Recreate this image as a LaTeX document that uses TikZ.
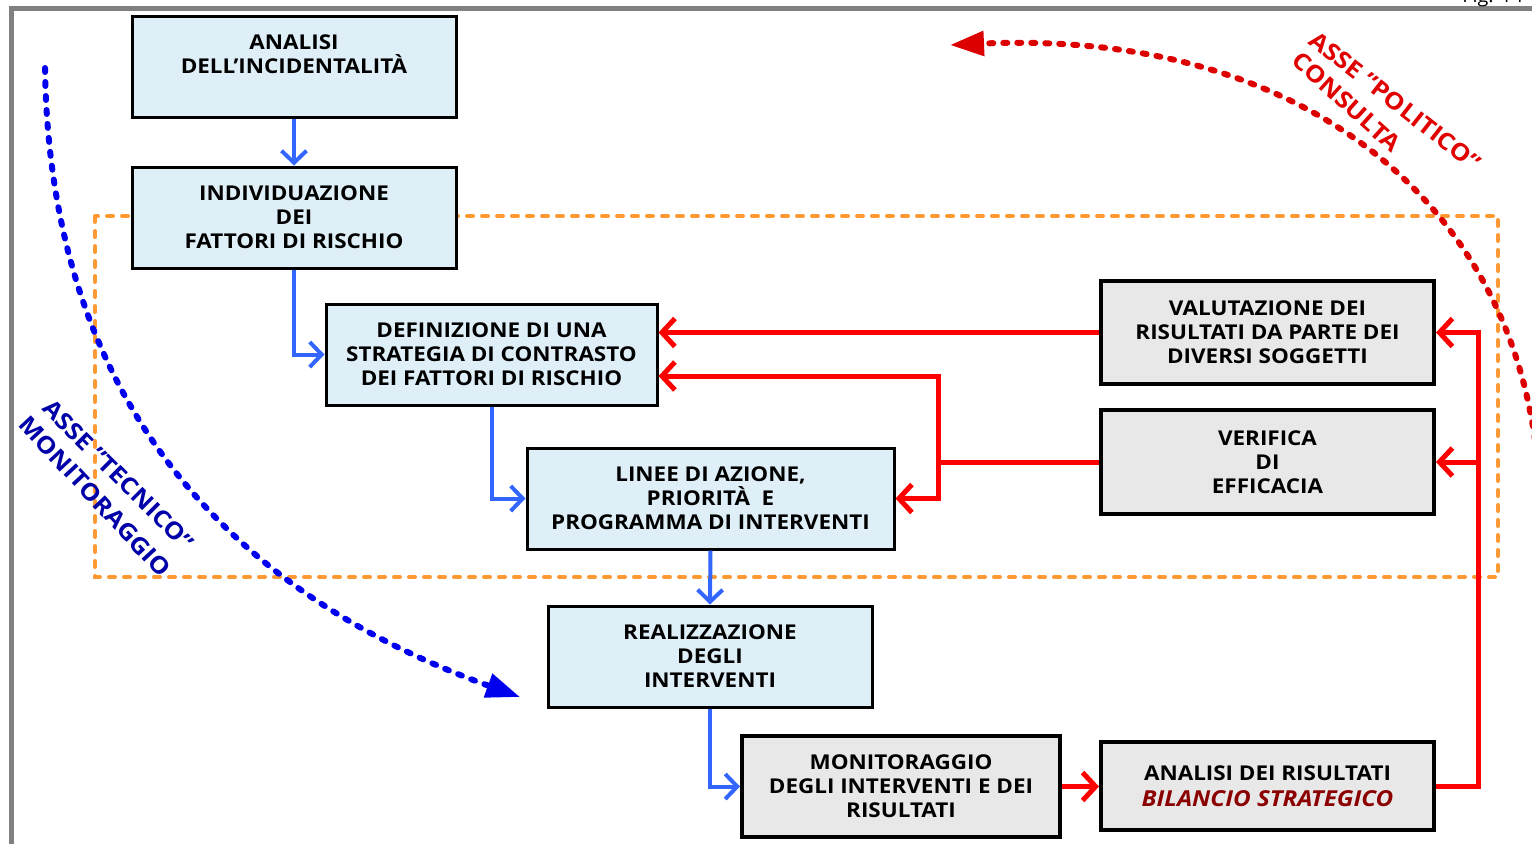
\documentclass[tikz,border=0pt]{standalone}
\usepackage{fontspec}
\setmainfont{Open Sans}[FakeStretch=1.1]
\usetikzlibrary{arrows.meta}
\definecolor{boxblue}{HTML}{DFEFF8}
\definecolor{boxgray}{HTML}{E8E8E8}
\definecolor{arrblue}{HTML}{3366FF}
\definecolor{dotblue}{HTML}{0000EE}
\definecolor{txtblue}{HTML}{0000A8}
\definecolor{arrred}{HTML}{FF0000}
\definecolor{dotred}{HTML}{DD0000}
\definecolor{txtred}{HTML}{E00000}
\definecolor{darkred}{HTML}{8B0000}
\definecolor{framegray}{HTML}{808080}
\definecolor{orangeline}{HTML}{FF9933}
\begin{document}
\begin{tikzpicture}[x=0.5pt,y=-0.5pt,
  bbox/.style={draw=black, line width=1.5pt, fill=boxblue, inner sep=0pt, align=center,
    font=\bfseries\fontsize{10.2}{12}\selectfont, minimum height=50.5pt},
  gbox/.style={bbox, fill=boxgray, line width=2pt},
  barr/.style={draw=arrblue, line width=2pt, -{Straight Barb[length=6pt,width=12.5pt]}},
  rline/.style={draw=arrred, line width=2.5pt},
  rarr/.style={rline, -{Straight Barb[length=6.5pt,width=14pt]}},
  dotcurve/.style={line width=3pt, line cap=round, dash pattern=on 2pt off 5pt},
  axislabel/.style={font=\bfseries\fontsize{11.7}{12}\selectfont, inner sep=0pt}
]
\useasboundingbox (0,0) rectangle (1532,843);
% page frame
\draw[framegray, line width=2.5pt] (11.5,845) -- (11.5,8.5) -- (1534,8.5);
\node[anchor=base west, font=\fontsize{9}{10}\selectfont, inner sep=0pt] (fig) at (1462,2) {Fig. 14};
% orange dashed region
\draw[orangeline, line width=2pt, line cap=round, dash pattern=on 3pt off 4.5pt] (95,216) rectangle (1498,577);
% dotted axes
\coordinate (bstart) at (45,68);
\coordinate (bend) at (520,697);
\draw[dotcurve, dotblue, -{Triangle[length=17pt,width=12pt]}] (bstart) .. controls (50,420) and (250,600) .. (bend);
\coordinate (rstart) at (1535,440);
\coordinate (rend) at (950,45);
\draw[dotcurve, dotred, -{Triangle[length=17pt,width=12pt]}] (rstart) .. controls (1500,190) and (1290,30) .. (rend);
% boxes
\node[bbox, minimum width=162pt] (b1) at (294,66.5) {ANALISI\\DELL’INCIDENTALITÀ\\\mbox{}};
\node[bbox, minimum width=162pt] (b2) at (294,217.5) {INDIVIDUAZIONE\\DEI\\FATTORI DI RISCHIO};
\node[bbox, minimum width=165.5pt] (b3) at (491.5,354.5) {DEFINIZIONE DI UNA\\STRATEGIA DI CONTRASTO\\DEI FATTORI DI RISCHIO};
\node[bbox, minimum width=183.5pt] (b4) at (710.5,498.5) {LINEE DI AZIONE,\\PRIORITÀ~~E\\PROGRAMMA DI INTERVENTI};
\node[bbox, minimum width=162pt] (b5) at (710,656.5) {REALIZZAZIONE\\DEGLI\\INTERVENTI};
\node[gbox, minimum width=159pt] (b6) at (901,786.5) {MONITORAGGIO\\DEGLI INTERVENTI E DEI\\RISULTATI};
\node[gbox, minimum width=166.5pt, minimum height=44pt, font=\bfseries\fontsize{10.2}{13}\selectfont] (b7) at (1267.5,786) {ANALISI DEI RISULTATI\\{\color{darkred}\itshape\fontsize{11}{13}\selectfont BILANCIO STRATEGICO}};
\node[gbox, minimum width=166.5pt, minimum height=51.5pt] (b8) at (1267.5,332.5) {VALUTAZIONE DEI\\RISULTATI DA PARTE DEI\\DIVERSI SOGGETTI};
\node[gbox, minimum width=166.5pt, minimum height=52pt] (b9) at (1267.5,462) {VERIFICA\\DI\\EFFICACIA};
% blue connectors
\draw[barr] (b1) -- (b2);
\draw[barr] (b2.south) |- (b3.west);
\draw[barr] (b3.south) |- (b4.west);
\draw[barr] (b4.south) -- (b5.north);
\draw[barr] (b5.south) |- (b6.west);
% red connectors
\draw[rarr] (b6.east) -- (b6.east -| b7.west);
\coordinate (rtop) at ([xshift=21pt]b8.east);
\coordinate (rmid) at ([xshift=21pt]b9.east);
\draw[rarr] (b7.east) -| (rtop) -- (b8.east);
\draw[rarr] (rmid) -- (b9.east);
\draw[rarr] (b8.west) -- (b8.west -| b3.east);
\coordinate (lj) at ([xshift=-80.5pt]b9.west);
\coordinate (b3low) at ([yshift=-10.75pt]b3.east);
\draw[rline] (b9.west) -- (lj);
\draw[rarr] (lj) |- (b3low);
\draw[rarr] (lj) |- (b4.east);
% axis labels
\node[axislabel, rotate=-45, text=txtblue] (lt1) at (118.5,475) {ASSE "TECNICO"};
\node[axislabel, rotate=-47, text=txtblue] (lt2) at (95,496.5) {MONITORAGGIO};
\node[axislabel, rotate=-38, text=txtred] (lp1) at (1395,101) {ASSE "POLITICO"};
\node[axislabel, rotate=-42, text=txtred] (lp2) at (1346.5,102) {CONSULTA};
\end{tikzpicture}
\end{document}
